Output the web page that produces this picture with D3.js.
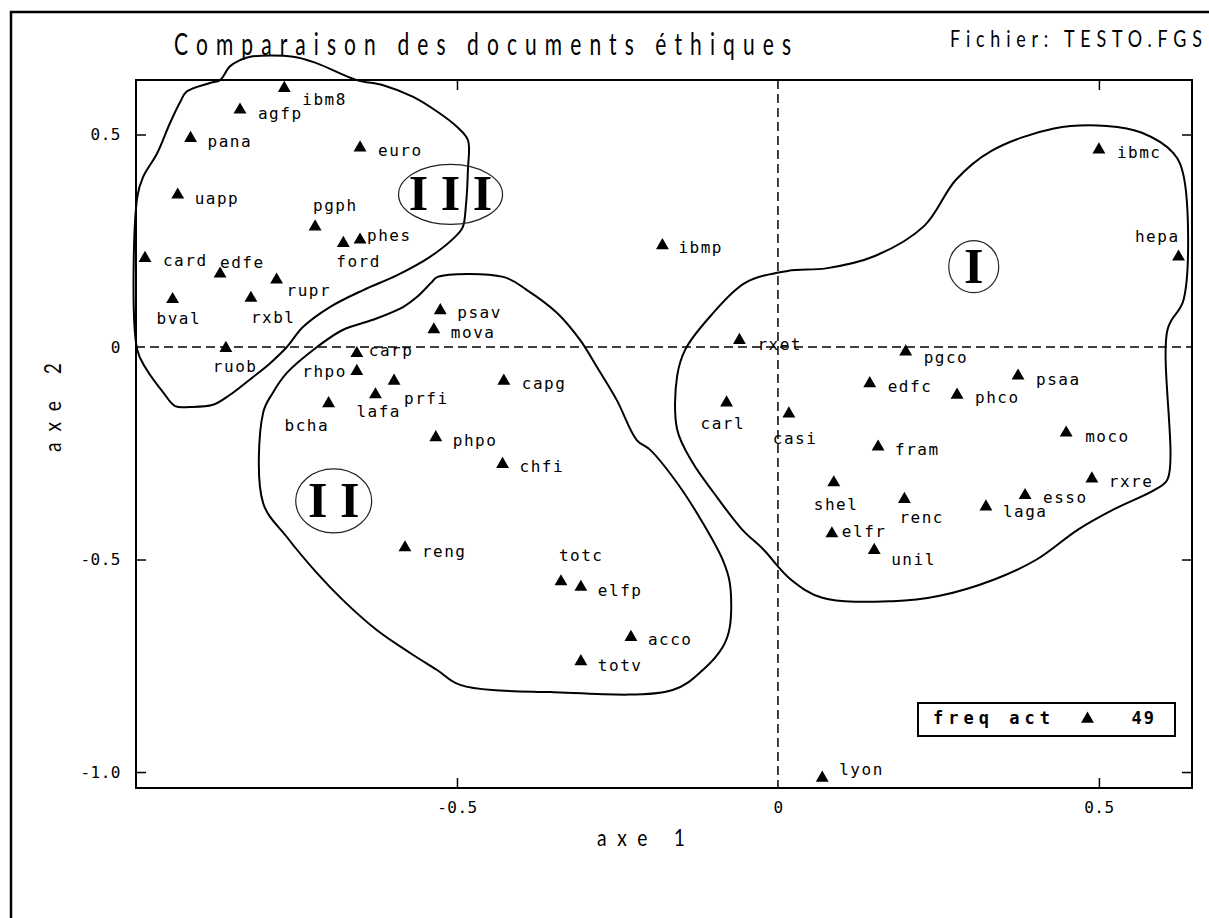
<!DOCTYPE html>
<html>
<head>
<meta charset="utf-8">
<script src="https://cdn.jsdelivr.net/npm/d3@7"></script>
<style>
  html, body { margin: 0; padding: 0; background: #fff; }
  svg { display: block; }
</style>
</head>
<body>
<script>
// ---- Data: factorial plan of the 49 ethics documents (axe 1 x axe 2) ----
const docNames = ["ibm8","agfp","pana","euro","uapp","pgph","ford","phes","card","edfe","rupr","bval","rxbl","ruob",
  "psav","mova","carp","rhpo","prfi","lafa","bcha","capg","phpo","chfi","reng","totc","elfp","acco","totv",
  "ibmp","lyon",
  "ibmc","hepa","rxet","pgco","psaa","edfc","phco","carl","casi","moco","fram","rxre","shel","esso","renc","laga","elfr","unil"];
const axe1 = [-0.769,-0.838,-0.915,-0.651,-0.935,-0.721,-0.677,-0.651,-0.986,-0.869,-0.781,-0.943,-0.821,-0.860,
  -0.526,-0.536,-0.656,-0.656,-0.598,-0.627,-0.700,-0.427,-0.533,-0.429,-0.581,-0.338,-0.307,-0.229,-0.307,
  -0.180,0.069,
  0.500,0.624,-0.060,0.199,0.374,0.143,0.279,-0.080,0.017,0.449,0.156,0.489,0.087,0.385,0.197,0.324,0.084,0.150];
const axe2 = [0.609,0.558,0.491,0.469,0.358,0.283,0.244,0.252,0.209,0.172,0.158,0.112,0.115,-0.003,
  0.086,0.041,-0.015,-0.057,-0.080,-0.112,-0.133,-0.080,-0.213,-0.276,-0.472,-0.552,-0.565,-0.683,-0.740,
  0.239,-1.014,
  0.464,0.212,0.016,-0.011,-0.068,-0.086,-0.113,-0.131,-0.157,-0.202,-0.235,-0.310,-0.319,-0.349,-0.358,-0.376,-0.439,-0.478];

const xTickValues = [-0.5, 0, 0.5];
const xTickLabels = ["-0.5", "0", "0.5"];
const yTickValues = [0.5, 0, -0.5, -1.0];
const yTickLabels = ["0.5", "0", "-0.5", "-1.0"];

const titleText = "Comparaison des documents éthiques";
const fileText = "Fichier: TESTO.FGS";
const xTitle = "axe 1";
const yTitle = "axe 2";
const legendLabel = "freq act";

// Cluster marks (roman numerals) and their outlines, in axis units
const clusterNames = ["I", "II", "III"];
const clusterAxe1 = [0.305, -0.692, -0.510];
const clusterAxe2 = [0.189, -0.362, 0.359];

const contourI = [[0.430,0.514],[0.512,0.520],[0.567,0.504],[0.616,0.456],[0.632,0.402],[0.632,0.112],[0.607,0.042],
  [0.607,-0.311],[0.588,-0.335],[0.523,-0.382],[0.468,-0.429],[0.403,-0.500],[0.337,-0.547],[0.250,-0.586],
  [0.179,-0.598],[0.069,-0.590],[0.020,-0.547],[-0.023,-0.476],[-0.056,-0.429],[-0.100,-0.343],[-0.133,-0.272],
  [-0.157,-0.194],[-0.157,-0.068],[-0.144,-0.005],[-0.105,0.073],[-0.051,0.151],[0.015,0.179],[0.075,0.185],
  [0.151,0.214],[0.228,0.285],[0.277,0.393],[0.332,0.461]];
const contourII = [[-0.539,0.153],[-0.530,0.165],[-0.428,0.165],[-0.391,0.134],[-0.344,0.080],[-0.308,0.016],
  [-0.282,-0.047],[-0.251,-0.125],[-0.220,-0.219],[-0.199,-0.242],[-0.157,-0.320],[-0.117,-0.414],[-0.086,-0.501],
  [-0.075,-0.555],[-0.075,-0.659],[-0.086,-0.706],[-0.117,-0.760],[-0.164,-0.807],[-0.355,-0.812],[-0.495,-0.795],
  [-0.531,-0.760],[-0.573,-0.720],[-0.625,-0.666],[-0.678,-0.595],[-0.718,-0.532],[-0.765,-0.447],[-0.802,-0.367],
  [-0.802,-0.155],[-0.787,-0.108],[-0.765,-0.061],[-0.718,0.000],[-0.678,0.040],[-0.631,0.064],[-0.584,0.094],
  [-0.562,0.118]];
const contourIII = [[-0.869,0.628],[-0.854,0.660],[-0.838,0.675],[-0.822,0.683],[-0.755,0.683],[-0.719,0.668],
  [-0.656,0.628],[-0.615,0.616],[-0.569,0.589],[-0.531,0.554],[-0.500,0.518],[-0.483,0.487],[-0.483,0.416],
  [-0.486,0.334],[-0.491,0.282],[-0.503,0.259],[-0.542,0.212],[-0.593,0.169],[-0.646,0.134],[-0.698,0.094],
  [-0.740,0.047],[-0.765,0.000],[-0.791,-0.038],[-0.818,-0.071],[-0.854,-0.113],[-0.880,-0.136],[-0.916,-0.141],
  [-0.939,-0.139],[-0.958,-0.106],[-0.983,-0.054],[-0.998,-0.007],[-0.998,0.353],[-0.989,0.400],[-0.967,0.456],
  [-0.947,0.527],[-0.931,0.577],[-0.921,0.601],[-0.885,0.621]];

// ---- Layout ----
const W = 1209, H = 918;
const plot = { left: 136, right: 1192, top: 80, bottom: 788 };

// label placement relative to each marker: [text-anchor, dx, dy(baseline)]
const labelPlacement = {
  ibm8:["start",18,17], agfp:["start",18,9], pana:["start",17,9], euro:["start",18,8], uapp:["start",17,9],
  pgph:["start",-2,-16], ford:["start",-7,24], phes:["start",7,1], card:["start",18,8], edfe:["start",0,-6],
  rupr:["start",10,16], bval:["start",-16,25], rxbl:["start",0,25], ruob:["start",-13,24],
  psav:["start",17,8], mova:["start",17,8], carp:["start",12,3], rhpo:["end",-10,6], prfi:["start",10,23],
  lafa:["start",-19,22], bcha:["start",-44,27], capg:["start",18,8], phpo:["start",17,8], chfi:["start",17,8],
  reng:["start",17,9], totc:["start",-2,-21], elfp:["start",17,9], acco:["start",17,8], totv:["start",17,9],
  ibmp:["start",16,8], lyon:["start",17,-3],
  ibmc:["start",18,8], hepa:["end",1,-15], rxet:["start",18,10], pgco:["start",18,11], psaa:["start",18,9],
  edfc:["start",18,8], phco:["start",18,8], carl:["start",-26,26], casi:["start",-16,30], moco:["start",19,9],
  fram:["start",17,8], rxre:["start",17,8], shel:["start",-20,27], esso:["start",18,8], renc:["start",-5,24],
  laga:["start",17,10], elfr:["start",10,3], unil:["start",17,15]
};
// ellipse radii around the roman numerals [rx, ry]
const clusterEllipse = { I:[25,26], II:[38,32], III:[52,30] };

const MONO = "'DejaVu Sans Mono', 'Liberation Mono', monospace";
const THIN = "Lato, 'Open Sans', 'DejaVu Sans', sans-serif";

const svg = d3.select("body").append("svg")
  .attr("width", W).attr("height", H)
  .style("background", "#fff");

const x = d3.scaleLinear().domain([-1.0, 0.645]).range([plot.left, plot.right]);
const y = d3.scaleLinear().domain([-1.0376, 0.6282]).range([plot.bottom, plot.top]);

// outer frame (runs off the right and bottom of the page)
svg.append("rect")
  .attr("x", 11).attr("y", 12).attr("width", W + 20).attr("height", H + 20)
  .attr("fill", "none").attr("stroke", "#000").attr("stroke-width", 2.5);

// title and file name
svg.append("text")
  .attr("transform", "translate(174,55) scale(0.7,1)")
  .attr("font-family", THIN).attr("font-weight", 400).attr("font-size", 30)
  .attr("textLength", 617 / 0.7).attr("lengthAdjust", "spacing")
  .attr("fill", "#000")
  .text(titleText);

svg.append("text")
  .attr("transform", "translate(950,47) scale(0.78,1)")
  .attr("font-family", THIN).attr("font-weight", 400).attr("font-size", 23)
  .attr("textLength", 252 / 0.78).attr("lengthAdjust", "spacing")
  .attr("fill", "#000")
  .text(fileText);

// zero reference lines
const zeroG = svg.append("g").attr("stroke", "#000").attr("stroke-width", 1.5).attr("stroke-dasharray", "9,5");
zeroG.append("line").attr("x1", x(0)).attr("x2", x(0)).attr("y1", plot.top).attr("y2", plot.bottom);
zeroG.append("line").attr("x1", plot.left).attr("x2", plot.right).attr("y1", y(0)).attr("y2", y(0));

// axes: inward ticks on all four sides, labels on bottom and left
function styleAxis(g) {
  g.select(".domain").remove();
  g.selectAll(".tick").filter(d => d === 0).select("line").remove();
  g.selectAll(".tick line").attr("stroke", "#000").attr("stroke-width", 1.5);
  g.attr("font-family", MONO).attr("font-size", 16);
  g.selectAll(".tick text").attr("fill", "#000").attr("letter-spacing", 0.5);
}
svg.append("g").attr("transform", `translate(0,${plot.bottom})`)
  .call(d3.axisBottom(x).tickValues(xTickValues).tickFormat((d, i) => xTickLabels[i])
    .tickSizeInner(-10).tickSizeOuter(0).tickPadding(14))
  .call(styleAxis);
svg.append("g").attr("transform", `translate(0,${plot.top})`)
  .call(d3.axisTop(x).tickValues(xTickValues).tickFormat("").tickSizeInner(-10).tickSizeOuter(0))
  .call(styleAxis);
svg.append("g").attr("transform", `translate(${plot.left},0)`)
  .call(d3.axisLeft(y).tickValues(yTickValues).tickFormat((d, i) => yTickLabels[i])
    .tickSizeInner(-10).tickSizeOuter(0).tickPadding(15))
  .call(styleAxis);
svg.append("g").attr("transform", `translate(${plot.right},0)`)
  .call(d3.axisRight(y).tickValues(yTickValues).tickFormat("").tickSizeInner(-10).tickSizeOuter(0))
  .call(styleAxis);

// plot frame
svg.append("rect")
  .attr("x", plot.left).attr("y", plot.top)
  .attr("width", plot.right - plot.left).attr("height", plot.bottom - plot.top)
  .attr("fill", "none").attr("stroke", "#000").attr("stroke-width", 2);

// axis titles
svg.append("text")
  .attr("transform", "translate(597,846) scale(0.8,1)")
  .attr("font-family", THIN).attr("font-weight", 400).attr("font-size", 24)
  .attr("textLength", 88 / 0.8).attr("lengthAdjust", "spacing")
  .attr("fill", "#000")
  .text(xTitle);
svg.append("text")
  .attr("transform", "translate(61,452) rotate(-90) scale(0.8,1)")
  .attr("font-family", THIN).attr("font-weight", 400).attr("font-size", 24)
  .attr("textLength", 89 / 0.8).attr("lengthAdjust", "spacing")
  .attr("fill", "#000")
  .text(yTitle);

// cluster outlines
const outline = d3.line().x(d => x(d[0])).y(d => y(d[1])).curve(d3.curveCatmullRomClosed.alpha(0.5));
svg.append("g").selectAll("path")
  .data([contourI, contourII, contourIII])
  .join("path")
  .attr("d", outline)
  .attr("fill", "none").attr("stroke", "#000").attr("stroke-width", 2).attr("stroke-linejoin", "round");

// roman numerals in ellipses
const clusters = clusterNames.map((n, i) => ({ name: n, a1: clusterAxe1[i], a2: clusterAxe2[i] }));
const cg = svg.append("g").selectAll("g").data(clusters).join("g")
  .attr("transform", d => `translate(${x(d.a1)},${y(d.a2)})`);
cg.append("ellipse")
  .attr("rx", d => clusterEllipse[d.name][0]).attr("ry", d => clusterEllipse[d.name][1])
  .attr("fill", "none").attr("stroke", "#222").attr("stroke-width", 1.2);
cg.append("text")
  .attr("text-anchor", "middle").attr("y", 16)
  .attr("font-family", "'Liberation Serif', 'DejaVu Serif', serif").attr("font-weight", "bold")
  .attr("font-size", 50)
  .text(d => d.name.split("").join(" "));

// documents: triangles and labels
const docs = docNames.map((n, i) => ({ name: n, a1: axe1[i], a2: axe2[i] }));
const tri = d3.symbol().type(d3.symbolTriangle).size(72);
const dg = svg.append("g");
dg.selectAll("path").data(docs).join("path")
  .attr("transform", d => `translate(${x(d.a1)},${y(d.a2)})`)
  .attr("d", tri).attr("fill", "#000");
dg.selectAll("text").data(docs).join("text")
  .attr("x", d => x(d.a1) + labelPlacement[d.name][1])
  .attr("y", d => y(d.a2) + labelPlacement[d.name][2])
  .attr("text-anchor", d => labelPlacement[d.name][0])
  .attr("font-family", MONO).attr("font-size", 16).attr("letter-spacing", 1.5)
  .attr("fill", "#000")
  .text(d => d.name);

// legend box
const lg = svg.append("g");
lg.append("rect").attr("x", 918).attr("y", 703).attr("width", 257).attr("height", 33)
  .attr("fill", "#fff").attr("stroke", "#000").attr("stroke-width", 2);
lg.append("text").attr("x", 933).attr("y", 724)
  .attr("font-family", MONO).attr("font-weight", "bold").attr("font-size", 17)
  .attr("textLength", 117).attr("lengthAdjust", "spacing")
  .text(legendLabel);
lg.append("path").attr("transform", "translate(1087.5,719)").attr("d", tri).attr("fill", "#000");
lg.append("text").attr("x", 1156).attr("y", 724).attr("text-anchor", "end")
  .attr("font-family", MONO).attr("font-weight", "bold").attr("font-size", 17)
  .attr("letter-spacing", 2)
  .text(docs.length);
</script>
</body>
</html>
